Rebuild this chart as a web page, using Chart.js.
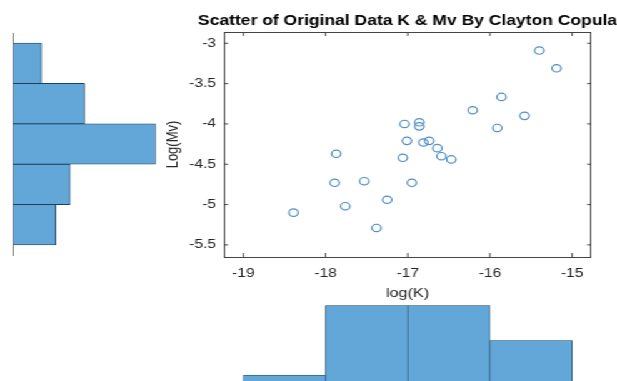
<!DOCTYPE html>
<html>
<head>
<meta charset="utf-8">
<script src="https://cdn.jsdelivr.net/npm/chart.js@4"></script>
<style>
  body { margin: 0; background: #fff; overflow: hidden; width: 617px; height: 381px; }
  /* the reference is stretched sideways, so draw narrow and stretch the whole stage */
  #stage { position: absolute; left: 0; top: 0; width: 494px; height: 381px; transform: scaleX(1.25); transform-origin: 0 0; }
  .box { position: absolute; }
</style>
</head>
<body>
<div id="stage">
  <div class="box" style="left:0; top:0; width:130px; height:290px;"><canvas id="histMv"></canvas></div>
  <div class="box" style="left:120px; top:0; width:374px; height:310px;"><canvas id="scatter"></canvas></div>
  <div class="box" style="left:120px; top:290px; width:374px; height:110px;"><canvas id="histK"></canvas></div>
</div>
<script>
// points
const logK  = [-15.40, -15.19, -15.86, -16.21, -15.58, -15.91, -17.04, -16.86, -16.86, -17.01, -16.81, -16.74,
               -16.64, -16.59, -16.47, -17.06, -17.87, -17.89, -17.53, -16.95, -17.76, -17.25, -18.39, -17.38];
const logMv = [-3.09, -3.31, -3.665, -3.83, -3.90, -4.05, -4.00, -3.98, -4.03, -4.21, -4.23, -4.21,
               -4.30, -4.40, -4.44, -4.42, -4.37, -4.73, -4.71, -4.73, -5.02, -4.94, -5.10, -5.29];

// histograms (bin centres + counts)
const mvBins   = [-5.25, -4.75, -4.25, -3.75, -3.25];
const mvCounts = [3, 4, 10, 5, 2];
const kBins    = [-18.5, -17.5, -16.5, -15.5];
const kCounts  = [1, 9, 9, 5];

// tick labels
const kTicks  = [-19, -18, -17, -16, -15];
const mvTicks = [-5.5, -5, -4.5, -4, -3.5, -3];

const TITLE = 'Scatter of Original Data K & Mv By Clayton Copula';

const K_MIN = -19.235, K_MAX = -14.77;
const MV_MIN = -5.65, MV_MAX = -2.86;

const FILL = '#63a6d8';
const EDGE = '#1f3d5c';
const AXIS = '#444';
const FONT = "'Liberation Sans', Arial, sans-serif";

Chart.defaults.font.family = FONT;
Chart.defaults.color = '#262626';
Chart.defaults.animation = false;
Chart.defaults.plugins.legend.display = false;
Chart.defaults.plugins.tooltip.enabled = false;

// matlab style ticks pointing into the box
const inwardTicks = {
  id: 'inwardTicks',
  afterDraw(chart) {
    const {ctx, chartArea: a, scales: {x, y}} = chart;
    ctx.save();
    ctx.strokeStyle = AXIS;
    ctx.lineWidth = 1;
    ctx.beginPath();
    kTicks.forEach(v => {
      const px = x.getPixelForValue(v);
      ctx.moveTo(px, a.bottom); ctx.lineTo(px, a.bottom - 4);
      ctx.moveTo(px, a.top);    ctx.lineTo(px, a.top + 4);
    });
    mvTicks.forEach(v => {
      const py = y.getPixelForValue(v);
      ctx.moveTo(a.left, py);  ctx.lineTo(a.left + 3.2, py);
      ctx.moveTo(a.right, py); ctx.lineTo(a.right - 3.2, py);
    });
    ctx.stroke();
    ctx.restore();
  }
};

// title centred over the axes box; chart.js would squeeze it to the box width
const boxTitle = {
  id: 'boxTitle',
  afterDraw(chart) {
    const {ctx, chartArea: a} = chart;
    ctx.save();
    ctx.font = 'bold 14px ' + FONT;
    ctx.fillStyle = '#000';
    ctx.textAlign = 'center';
    ctx.textBaseline = 'alphabetic';
    ctx.fillText(TITLE, (a.left + a.right) / 2, 25);
    ctx.restore();
  }
};

// fixed tick lists (the bar width is also taken from the tick spacing)
const setTicks = list => s => { s.ticks = list.map(v => ({value: v})); };

new Chart(document.getElementById('scatter'), {
  type: 'scatter',
  data: {
    datasets: [{
      data: logK.map((k, i) => ({x: k, y: logMv[i]})),
      pointStyle: 'circle',
      pointRadius: 3.7,
      borderWidth: 1.2,
      borderColor: '#4f8fc6',
      backgroundColor: 'rgba(0,0,0,0)'
    }]
  },
  options: {
    responsive: true,
    maintainAspectRatio: false,
    layout: { padding: { left: 0, right: 21.2, top: 0, bottom: 0 } },
    scales: {
      x: {
        type: 'linear', position: 'bottom', min: K_MIN, max: K_MAX,
        afterBuildTicks: setTicks(kTicks),
        afterFit: s => { s.height = 53; },
        grid: { display: false, drawTicks: false },
        border: { display: true, color: AXIS, width: 1 },
        ticks: { padding: 9.5, font: { size: 12.5 }, callback: v => String(v) },
        title: { display: true, text: 'log(K)', font: { size: 13 }, padding: { top: 0, bottom: 8.5 } }
      },
      x2: {
        type: 'linear', position: 'top', min: K_MIN, max: K_MAX,
        afterFit: s => { s.height = 32; },
        grid: { display: false, drawTicks: false },
        border: { display: true, color: AXIS, width: 1 },
        ticks: { display: false }
      },
      y: {
        type: 'linear', position: 'left', min: MV_MIN, max: MV_MAX,
        afterBuildTicks: setTicks(mvTicks),
        afterFit: s => { s.width = 59.2; },
        grid: { display: false, drawTicks: false },
        border: { display: true, color: AXIS, width: 1 },
        ticks: { padding: 6.4, font: { size: 12.5 }, callback: v => String(v) },
        title: { display: true, text: 'Log(Mv)', font: { size: 13 }, padding: { top: 10.6, bottom: 0 } }
      },
      y2: {
        type: 'linear', position: 'right', min: MV_MIN, max: MV_MAX,
        afterFit: s => { s.width = 0; },
        grid: { display: false, drawTicks: false },
        border: { display: true, color: AXIS, width: 1 },
        ticks: { display: false }
      }
    }
  },
  plugins: [inwardTicks, boxTitle]
});

// Mv histogram, sideways on the left
new Chart(document.getElementById('histMv'), {
  type: 'bar',
  data: {
    datasets: [{
      data: mvBins.map((b, i) => ({x: mvCounts[i], y: b})),
      backgroundColor: FILL,
      borderColor: EDGE,
      borderWidth: 0.8,
      barPercentage: 1,
      categoryPercentage: 1
    }]
  },
  options: {
    indexAxis: 'y',
    responsive: true,
    maintainAspectRatio: false,
    layout: { padding: { left: 0, right: 5.4, top: 33, bottom: 35 } },
    scales: {
      x: { type: 'linear', min: 0, max: 10, display: false },
      y: {
        type: 'linear', position: 'left', min: -5.624, max: -2.876, offset: false,
        afterBuildTicks: setTicks(mvTicks),
        afterFit: s => { s.width = 10.4; },
        grid: { display: false, drawTicks: false },
        border: { display: true, color: '#777', width: 1 },
        ticks: { display: false }
      }
    }
  }
});

// K histogram underneath
new Chart(document.getElementById('histK'), {
  type: 'bar',
  data: {
    datasets: [{
      data: kBins.map((b, i) => ({x: b, y: kCounts[i]})),
      backgroundColor: FILL,
      borderColor: EDGE,
      borderWidth: 0.6,
      barPercentage: 1,
      categoryPercentage: 1
    }]
  },
  options: {
    responsive: true,
    maintainAspectRatio: false,
    layout: { padding: { left: 59.2, right: 21.2, top: 7, bottom: 16 } },
    scales: {
      x: { type: 'linear', min: K_MIN, max: K_MAX, offset: false, display: false, afterBuildTicks: setTicks(kTicks) },
      y: { type: 'linear', min: 0, max: 10, display: false }
    }
  }
});
</script>
</body>
</html>
